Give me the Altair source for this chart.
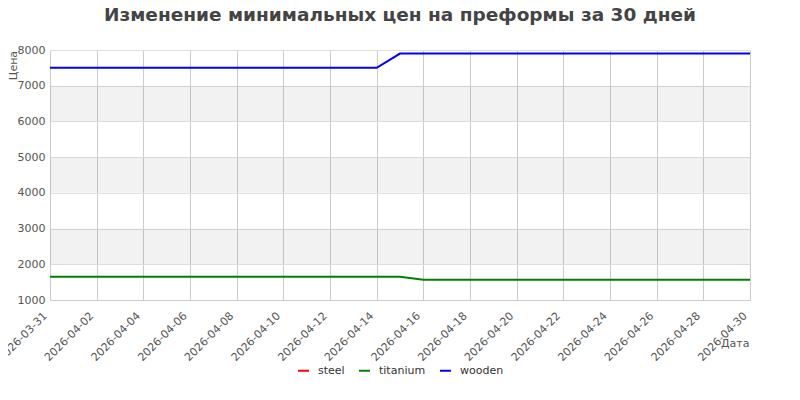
import altair as alt
import pandas as pd

dates = [
    "2026-03-31", "2026-04-01", "2026-04-02", "2026-04-03", "2026-04-04", "2026-04-05",
    "2026-04-06", "2026-04-07", "2026-04-08", "2026-04-09", "2026-04-10", "2026-04-11",
    "2026-04-12", "2026-04-13", "2026-04-14", "2026-04-15", "2026-04-16", "2026-04-17",
    "2026-04-18", "2026-04-19", "2026-04-20", "2026-04-21", "2026-04-22", "2026-04-23",
    "2026-04-24", "2026-04-25", "2026-04-26", "2026-04-27", "2026-04-28", "2026-04-29",
    "2026-04-30",
]
titanium = [
    1650, 1650, 1650, 1650, 1650, 1650, 1650, 1650, 1650, 1650, 1650, 1650, 1650, 1650,
    1650, 1650, 1570, 1570, 1570, 1570, 1570, 1570, 1570, 1570, 1570, 1570, 1570, 1570,
    1570, 1570, 1570,
]
wooden = [
    7500, 7500, 7500, 7500, 7500, 7500, 7500, 7500, 7500, 7500, 7500, 7500, 7500, 7500,
    7500, 7900, 7900, 7900, 7900, 7900, 7900, 7900, 7900, 7900, 7900, 7900, 7900, 7900,
    7900, 7900, 7900,
]
series_names = ["steel", "titanium", "wooden"]
series_colors = ["#ff0000", "#008000", "#0000ff"]
tick_dates = [
    "2026-03-31", "2026-04-02", "2026-04-04", "2026-04-06", "2026-04-08", "2026-04-10",
    "2026-04-12", "2026-04-14", "2026-04-16", "2026-04-18", "2026-04-20", "2026-04-22",
    "2026-04-24", "2026-04-26", "2026-04-28", "2026-04-30",
]
y_ticks = [1000, 2000, 3000, 4000, 5000, 6000, 7000, 8000]
band_lo = [2000, 4000, 6000]
band_hi = [3000, 5000, 7000]

rows = []
for d, v in zip(dates, titanium):
    rows.append({"date": d, "price": v, "material": "titanium"})
for d, v in zip(dates, wooden):
    rows.append({"date": d, "price": v, "material": "wooden"})
df = pd.DataFrame(rows)

bands = pd.DataFrame({"lo": band_lo, "hi": band_hi,
                      "start": [dates[0]] * 3, "end": [dates[-1]] * 3})

def dt(s):
    y, m, d = s.split("-")
    return alt.DateTime(year=int(y), month=int(m), date=int(d), utc=True)

xscale = alt.Scale(type="utc", domain=[dt(dates[0]), dt(dates[-1])], nice=False)
yscale = alt.Scale(domain=[1000, 8000], nice=False, zero=False)

x_axis = alt.Axis(
    values=[dt(s) for s in tick_dates],
    format="%Y-%m-%d",
    labelAngle=-45,
    labelAlign="right",
    labelBaseline="middle",
    labelFontSize=11,
    labelColor="#555555",
    labelPadding=14,
    labelOffset=-5,
    labelOverlap=False,
    labelBound=False,
    labelFlush=False,
    ticks=False,
    grid=True,
    gridColor="#cccccc",
    domainColor="#cccccc",
    title="Дата",
    titleFontSize=11,
    titleFontWeight="normal",
    titleColor="#555555",
    titleAlign="right",
    titleBaseline="middle",
    titleX=699,
    titleY=43,
)
y_axis = alt.Axis(
    values=y_ticks,
    format="d",
    labelFontSize=11,
    labelColor="#555555",
    labelPadding=5,
    labelOverlap=False,
    labelFlush=False,
    labelBound=False,
    ticks=False,
    grid=True,
    gridColor="#e0e0e0",
    domainColor="#cccccc",
    title="Цена",
    titleFontSize=11,
    titleFontWeight="normal",
    titleColor="#555555",
    titleAngle=-90,
    titleAlign="center",
    titleBaseline="middle",
    titleX=-37,
    titleY=15,
)

band_layer = alt.Chart(bands).mark_rect(color="#000000", opacity=0.05).encode(
    x=alt.X("start:T", scale=xscale, axis=x_axis),
    x2="end:T",
    y=alt.Y("lo:Q", scale=yscale, axis=y_axis),
    y2="hi:Q",
)

line_layer = alt.Chart(df).mark_line(strokeWidth=2, interpolate="linear").encode(
    x=alt.X("date:T", scale=xscale, axis=x_axis),
    y=alt.Y("price:Q", scale=yscale, axis=y_axis),
    color=alt.Color(
        "material:N",
        scale=alt.Scale(domain=series_names, range=series_colors),
        legend=alt.Legend(
            title=None,
            orient="none",
            direction="horizontal",
            legendX=247,
            legendY=314,
            symbolType="stroke",
            symbolStrokeWidth=2,
            symbolSize=120,
            labelFontSize=11,
            labelColor="#333333",
            labelOffset=8,
            columnPadding=10,
        ),
    ),
)

chart = (
    alt.layer(band_layer, line_layer)
    .properties(
        width=700,
        height=250,
        autosize=alt.AutoSizeParams(type="none"),
        padding={"left": 42, "top": 42, "right": 42, "bottom": 92},
        title=alt.TitleParams(
            "Изменение минимальных цен на преформы за 30 дней",
            fontSize=18.5,
            fontWeight="bold",
            color="#444444",
            anchor="middle",
            offset=20,
            font="DejaVu Sans",
        ),
    )
    .configure(font="DejaVu Sans")
    .configure_view(stroke=None)
)

chart.save("out.html", embed_options={"renderer": "svg", "actions": False})
